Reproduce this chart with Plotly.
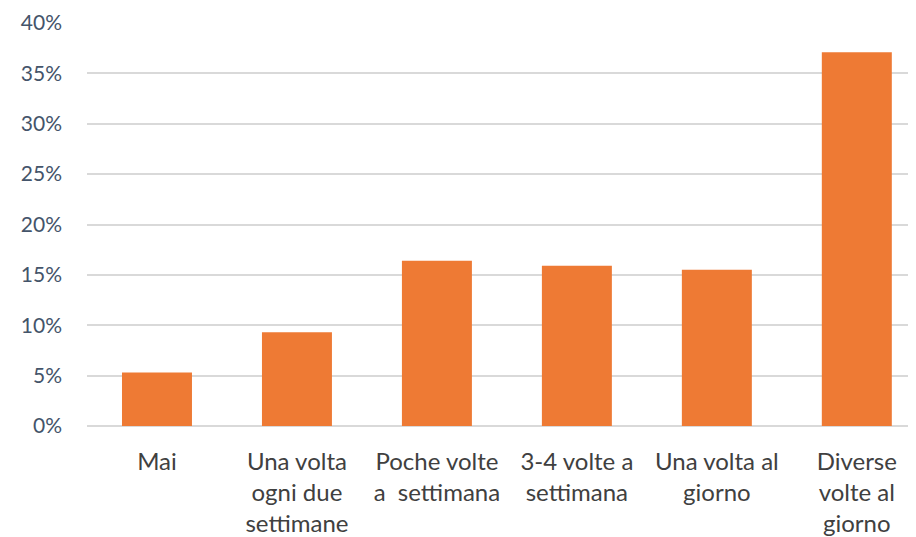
import plotly.graph_objects as go

categories = [
    "Mai",
    "Una volta<br>ogni due<br>settimane",
    "Poche volte<br>a  settimana",
    "3-4 volte a<br>settimana",
    "Una volta al<br>giorno",
    "Diverse<br>volte al<br>giorno",
]
values = [0.053, 0.093, 0.164, 0.159, 0.155, 0.371]

fig = go.Figure(
    data=go.Bar(
        x=categories,
        y=values,
        marker=dict(color="#EE7A34", line=dict(width=0)),
        width=0.5,
    )
)

# page body has an 8px margin, so the margins are shifted to compensate
fig.update_layout(
    width=916,
    height=537,
    margin=dict(l=79, r=0, t=15, b=119, autoexpand=False),
    plot_bgcolor="white",
    paper_bgcolor="white",
    font=dict(family="Lato, Open Sans, sans-serif", size=21, color="#44546A"),
    showlegend=False,
)

fig.update_xaxes(
    range=[-0.5, 5.48],
    automargin=False,
    showgrid=False,
    showline=False,
    zeroline=False,
    tickfont=dict(size=24, color="#404040"),
    ticks="",
    ticklabelstandoff=19,
)

fig.update_yaxes(
    range=[0, 0.40],
    automargin=False,
    dtick=0.05,
    tickformat=".0%",
    showgrid=True,
    gridcolor="#D9D9D9",
    gridwidth=1.5,
    zeroline=True,
    zerolinecolor="#D9D9D9",
    zerolinewidth=1.5,
    showline=False,
    ticks="",
    ticklabelstandoff=24,
    tickfont=dict(size=21, color="#44546A"),
)

fig.write_html("out.html")
